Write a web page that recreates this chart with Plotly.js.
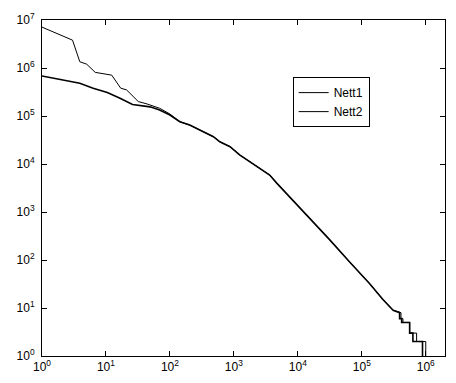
<!DOCTYPE html>
<html>
<head>
<meta charset="utf-8">
<script src="https://cdn.plot.ly/plotly-3.0.1.min.js"></script>
<style>html,body{margin:0;padding:0;background:#fff;}#chart{width:456px;height:383px;}</style>
</head>
<body>
<div id="chart"></div>
<script>
// Head of each curve
const nett1HeadX = [1, 3.0, 3.9, 5.0, 6.8, 12.3, 17, 21, 32, 44, 69, 100];
const nett1HeadY = [7.1e6, 3.8e6, 1.35e6, 1.2e6, 8.1e5, 7.1e5, 3.8e5, 3.5e5, 2.0e5, 1.78e5, 1.45e5, 1.1e5];
const nett2HeadX = [1, 3.9, 6.3, 8.1, 10.5, 16.6, 26, 49, 69, 100];
const nett2HeadY = [6.8e5, 4.8e5, 3.8e5, 3.5e5, 3.1e5, 2.34e5, 1.74e5, 1.55e5, 1.33e5, 1.05e5];
// Shared middle section
const commonX = [143, 204, 331, 479, 603, 871, 1230, 1780, 2570, 3630, 4680, 6610, 9550, 1.55e4, 3.16e4, 6.46e4, 1.33e5, 2.14e5, 3.09e5];
const commonY = [7.6e4, 6.46e4, 4.7e4, 3.7e4, 2.9e4, 2.29e4, 1.55e4, 1.12e4, 8.1e3, 5.9e3, 4.0e3, 2.45e3, 1.5e3, 741, 263, 91, 32, 15, 9];
// Step-shaped tails
const nett1TailX = [4.1e5, 4.1e5, 4.4e5, 4.4e5, 5.6e5, 5.6e5, 7.2e5, 7.2e5, 1.0e6, 1.0e6];
const nett1TailY = [8, 6, 6, 5, 5, 3, 3, 2, 2, 1];
const nett2TailX = [3.9e5, 3.9e5, 4.2e5, 4.2e5, 5.6e5, 5.6e5, 6.3e5, 6.3e5, 8.9e5, 8.9e5];
const nett2TailY = [8, 6, 6, 5, 5, 3, 3, 2, 2, 1];

const seriesNames = ['Nett1', 'Nett2'];

const xTickVals = [1, 10, 100, 1e3, 1e4, 1e5, 1e6];
const xTickText = ['10<sup>0</sup>', '10<sup>1</sup>', '10<sup>2</sup>', '10<sup>3</sup>', '10<sup>4</sup>', '10<sup>5</sup>', '10<sup>6</sup>'];
const yTickVals = [1, 10, 100, 1e3, 1e4, 1e5, 1e6, 1e7];
const yTickText = ['10<sup>0</sup>', '10<sup>1</sup>', '10<sup>2</sup>', '10<sup>3</sup>', '10<sup>4</sup>', '10<sup>5</sup>', '10<sup>6</sup>', '10<sup>7</sup>'];

const traces = [
  {
    name: seriesNames[0], type: 'scatter', mode: 'lines', legendrank: 1,
    x: nett1HeadX.concat(commonX, nett1TailX),
    y: nett1HeadY.concat(commonY, nett1TailY),
    line: {color: '#000', width: 1}
  },
  {
    name: seriesNames[1], type: 'scatter', mode: 'lines', showlegend: false,
    x: nett2HeadX.concat(commonX, nett2TailX),
    y: nett2HeadY.concat(commonY, nett2TailY),
    line: {color: '#000', width: 1.6}
  },
  {
    // legend entry for Nett2 drawn with a thin line, as in the reference
    name: seriesNames[1], type: 'scatter', mode: 'lines', legendrank: 2,
    x: [null], y: [null],
    line: {color: '#000', width: 1}
  }
];

const axisCommon = {
  type: 'log', showgrid: false, zeroline: false,
  showline: true, linecolor: '#000', linewidth: 1, mirror: 'ticks',
  ticks: 'inside', ticklen: 5, tickcolor: '#000', tickwidth: 1,
  tickfont: {family: 'Liberation Sans, Arial, sans-serif', size: 12, color: '#000'},
  tickmode: 'array'
};

const layout = {
  width: 456, height: 383,
  margin: {l: 42, r: 11, t: 20, b: 27, pad: 0},
  paper_bgcolor: '#fff', plot_bgcolor: '#fff',
  showlegend: true,
  font: {family: 'Liberation Sans, Arial, sans-serif', size: 12, color: '#000'},
  xaxis: Object.assign({}, axisCommon, {range: [0, Math.log10(2e6)], tickvals: xTickVals, ticktext: xTickText}),
  yaxis: Object.assign({}, axisCommon, {range: [0, 7], tickvals: yTickVals, ticktext: yTickText, ticklabelstandoff: 4}),
  legend: {
    x: 0.622, y: 0.83, xanchor: 'left', yanchor: 'top',
    bgcolor: '#fff', bordercolor: '#000', borderwidth: 1,
    font: {family: 'Liberation Sans, Arial, sans-serif', size: 12, color: '#000'},
    itemwidth: 30, tracegroupgap: 0
  }
};

Plotly.newPlot('chart', traces, layout, {displayModeBar: false, staticPlot: true});
</script>
</body>
</html>
